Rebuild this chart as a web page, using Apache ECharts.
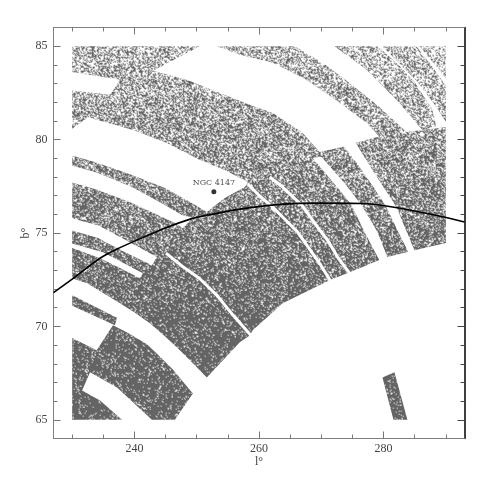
<!DOCTYPE html>
<html>
<head>
<meta charset="utf-8">
<style>
html,body{margin:0;padding:0;background:#fff;}
#chart{width:491px;height:491px;}
</style>
<script src="https://cdn.jsdelivr.net/npm/echarts@6/dist/echarts.min.js"></script>
</head>
<body>
<div id="chart"></div>
<script>
// tick values
var xMajor = [240,260,280];
var xMinor = [230,235,245,250,255,265,270,275,285,290];
var yMajor = [65,70,75,80,85];
var yMinor = [66,67,68,69,71,72,73,74,76,77,78,79,81,82,83,84];

// survey fields as [l,b] outlines
// the single stars are too dense to read, so the fields are drawn as filled areas
var mainField = [[230,85],[250.5,85],[242.97,83.69],[248.41,83.2],[253.22,82.56],[258.51,81.86],[262.2,81.43],[267,80.36],[269.73,79.34],[273.41,79.61],[275.34,79.82],[279.02,80.14],[283.67,80.41],[290,80.68],[290,74.46],[284.95,74.08],[283.67,73.97],[280.62,73.71],[279.34,73.55],[274.54,72.9],[271.33,72.47],[263.8,71.24],[258.99,69.79],[258.51,69.52],[256.91,69.15],[251.62,67.27],[249.54,67.97],[247.29,68.72],[244.89,69.47],[242.48,70.17],[240.08,70.73],[237.68,71.24],[232.39,72.31],[230,72.58]];
var band1 = [[253.22,85],[265.72,85],[270.21,84.11],[274.54,83.04],[279.34,81.75],[283.67,80.41],[279.34,80.14],[277.26,80.9],[272.93,81.97],[267.64,83.2],[262.2,84.11],[256.91,84.54]];
var band2 = [[272.13,85],[279.02,85],[282.23,84.06],[284.95,83.1],[287.84,81.6],[288.48,80.73],[286.23,80.52],[282.07,82.13],[277.26,83.74]];
var band3 = [[279.83,85],[285.27,85],[287.84,83.9],[290,82.88],[290,80.95],[288.48,81.75],[285.43,83.1]];
var band4 = [[285.76,85],[290,85],[290,83.28],[287.84,84.17]];
var stripeLow = [[230,71.67],[237.2,70.46],[236.87,70.06],[230,71.1]];
var blockLow = [[230,69.38],[233.94,68.72],[236.55,70.06],[239.28,69.6],[242,69.04],[244.09,68.39],[246.17,67.7],[247.77,67.05],[249.38,66.41],[246.49,65],[242.8,65],[237.2,66.73],[232.87,67.54],[231.59,66.57],[234.47,66.03],[238,65],[230,65]];
var blockRight = [[279.83,67.27],[281.75,67.54],[283.83,65],[281.59,65]];
var fields = [mainField,band1,band2,band3,band4,stripeLow,blockLow,blockRight];

// empty gaps inside the main field
var gapTopLeft = [[229.7,83.63],[237.68,83.2],[236.07,82.4],[229.7,82.64]];
var gapWedge = [[229.7,80.52],[232.55,81.19],[239.76,80.52],[245.21,79.82],[250.5,78.91],[254.5,78.37],[258.19,77.73],[257.71,77.46],[254.5,76.87],[251.62,76.12],[249.22,76.6],[244.89,77.41],[239.6,78.11],[234.15,78.75],[229.7,79.18]];
var gapLeft1 = [[229.7,78.64],[234.15,78.21],[239.6,77.46],[244.89,76.5],[247.61,75.96],[249.38,75.8],[247.77,75.26],[246.49,75.53],[243.77,75.96],[239.6,76.6],[234.15,77.3],[229.7,77.73]];
var gapLeft2 = [[229.7,75.8],[234.15,75.42],[238,74.73],[243.6,73.71],[242.8,73.28],[238.48,73.97],[234.15,74.73],[229.7,75.16]];
var gapLeft3 = [[229.7,74.46],[234.95,73.97],[241.36,72.85],[240.88,72.58],[237.68,73.12],[234.47,73.65],[229.7,74.24]];
var gapRight1 = [[268.61,79.02],[272.93,77.3],[274.86,76.5],[276.94,75.05],[279.5,73.44],[280.95,73.44],[279.02,75.05],[276.46,76.5],[273.73,77.68],[270.05,79.07]];
var gapRight2 = [[273.41,79.72],[276.14,78.54],[278.7,77.3],[280.46,76.39],[282.07,75.26],[283.67,74.19],[283.99,73.92],[285.27,73.81],[284.95,74.08],[282.07,76.39],[278.22,78.37],[275.34,79.93]];
var gaps = [gapTopLeft,gapWedge,gapLeft1,gapLeft2,gapLeft3,gapRight1,gapRight2];

// the thin empty lines
var thinGap1 = [[258.19,77.62],[260.11,76.98],[262.03,76.44],[264.12,75.75],[266.2,75.05],[268.13,74.14],[269.73,73.38],[271.81,72.26]];
var thinGap2 = [[261.71,78],[263.8,77.46],[266.84,76.5],[269.41,75.31],[271.01,74.62],[272.61,73.71],[274.7,72.79]];
var thinGap3 = [[245.05,73.92],[247.77,73.2],[250.5,72.55],[253.22,71.67],[255.79,70.62],[258.99,69.41]];

// black curve and the cluster
var curve = [[227,71.81],[230,72.53],[234.47,73.65],[237.2,74.14],[240.4,74.62],[244.89,75.26],[249.22,75.77],[251.78,75.96],[256.91,76.28],[262.84,76.52],[270.21,76.6],[276.62,76.58],[281.43,76.39],[288.96,75.91],[293,75.59]];
var cluster = [[252.75,77.21]];
var clusterName = "NGC 4147";

// fill texture only, it is a style for the areas and holds no data
function noise(x,y){
	var h = (x*374761393 + y*668265263)|0;
	h = Math.imul(h^(h>>>13),1274126177);
	return ((h^(h>>>16))>>>0)/4294967296;
}
function makeTexture(){
	var c = document.createElement("canvas");
	c.width = 491; c.height = 491;
	var ctx = c.getContext("2d");
	var img = ctx.createImageData(491,491);
	var cover = function(x,y){
		var k = 0.42 + 0.48*Math.min(1,Math.max(0,(y-46)/280));
		if(y<130) k -= 0.1*Math.max(0,(x-330)/120);
		return k;
	};
	var on = function(x,y){ return noise(x,y) < cover(x,y) ? 1 : 0; };
	for(var y=0;y<491;y++){
		for(var x=0;x<491;x++){
			var v = 0.46*on(x,y) + 0.2*on(x+1,y) + 0.2*on(x,y+1) + 0.14*on(x+1,y+1);
			var g = Math.round(255 - v*(255-100));
			var i = (y*491+x)*4;
			img.data[i] = g; img.data[i+1] = g; img.data[i+2] = g; img.data[i+3] = 255;
		}
	}
	ctx.putImageData(img,0,0);
	return c;
}
var texture = {image:makeTexture(),repeat:"repeat"};

function polygonSeries(list,fill,z){
	return {
		type:"custom",
		xAxisIndex:0,
		yAxisIndex:0,
		silent:true,
		z:z,
		data:list.map(function(p,i){return [i];}),
		renderItem:function(params,api){
			var pts = list[params.dataIndex].map(function(p){return api.coord(p);});
			return {type:"polygon",shape:{points:pts},style:{fill:fill}};
		}
	};
}
function thinLine(data){
	return {type:"line",xAxisIndex:0,yAxisIndex:0,data:data,symbol:"none",silent:true,z:4,
		lineStyle:{color:"#fff",width:3}};
}

var gridBox = {left:53.5,top:27.5,width:411,height:411};
var labelFont = {color:"#444",fontFamily:"Liberation Serif",fontSize:12};
var grayLine = {show:true,onZero:false,lineStyle:{color:"#808080",width:1}};
var blackLine = {show:true,onZero:false,lineStyle:{color:"#000",width:1.5}};

function xAxisOf(grid,pos,ticks,len,labels){
	var a = {type:"value",gridIndex:grid,position:pos,min:227,max:293,splitLine:{show:false},
		axisLine:grid===0?grayLine:{show:false},
		axisTick:{show:true,inside:true,length:len,customValues:ticks,lineStyle:{color:"#777"}},
		axisLabel:{show:false}};
	if(labels){
		a.axisLabel = Object.assign({show:true,customValues:ticks,margin:4},labelFont);
		a.name = "l°";
		a.nameLocation = "middle";
		a.nameGap = 17;
		a.nameMoveOverlap = false;
		a.nameTextStyle = labelFont;
	}
	return a;
}
function yAxisOf(grid,pos,ticks,len,labels){
	var a = {type:"value",gridIndex:grid,position:pos,min:64,max:86,splitLine:{show:false},
		axisLine:grid===0?(pos==="right"?blackLine:grayLine):{show:false},
		axisTick:{show:true,inside:true,length:len,customValues:ticks,
			lineStyle:{color:pos==="right"?"#444":"#777"}},
		axisLabel:{show:false}};
	if(labels){
		a.axisLabel = Object.assign({show:true,customValues:ticks,margin:6},labelFont);
		a.name = "b°";
		a.nameLocation = "middle";
		a.nameGap = 22;
		a.nameRotate = 90;
		a.nameMoveOverlap = false;
		a.nameTextStyle = labelFont;
	}
	return a;
}

var myChart = echarts.init(document.getElementById("chart"),null,{renderer:"canvas"});
var option = {
	animation:false,
	backgroundColor:"#fff",
	grid:[gridBox,gridBox],
	xAxis:[
		xAxisOf(0,"bottom",xMajor,7,true),
		xAxisOf(0,"top",xMajor,7,false),
		xAxisOf(1,"bottom",xMinor,4,false),
		xAxisOf(1,"top",xMinor,4,false)
	],
	yAxis:[
		yAxisOf(0,"left",yMajor,7,true),
		yAxisOf(0,"right",yMajor,7,false),
		yAxisOf(1,"left",yMinor,4,false),
		yAxisOf(1,"right",yMinor,4,false)
	],
	series:[
		polygonSeries(fields,texture,2),
		polygonSeries(gaps,"#fff",3),
		thinLine(thinGap1),
		thinLine(thinGap2),
		thinLine(thinGap3),
		{
			type:"line",xAxisIndex:0,yAxisIndex:0,data:curve,symbol:"none",smooth:0.3,silent:true,z:5,
			lineStyle:{color:"#000",width:1.6}
		},
		{
			type:"scatter",xAxisIndex:0,yAxisIndex:0,data:cluster,symbolSize:5,silent:true,z:6,
			itemStyle:{color:"#000"},
			label:{show:true,position:"top",distance:2,formatter:clusterName,color:"#222",
				fontFamily:"DejaVu Serif",fontSize:8}
		}
	]
};
myChart.setOption(option);
</script>
</body>
</html>
